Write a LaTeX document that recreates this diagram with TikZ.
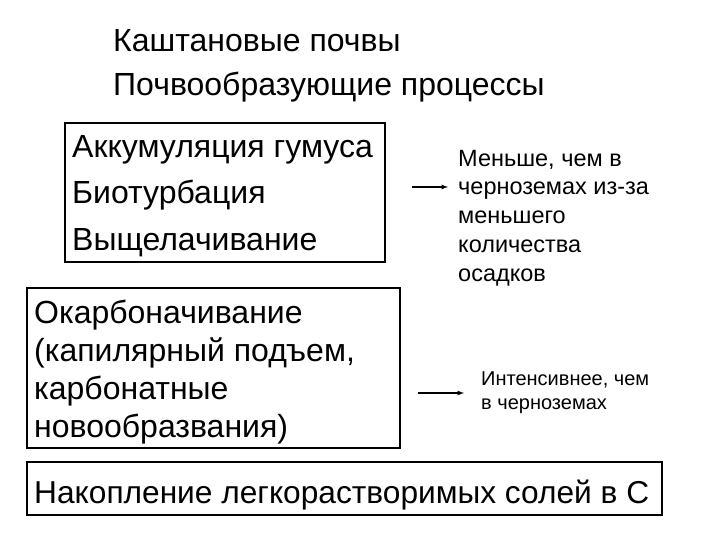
\documentclass[tikz,border=0pt]{standalone}
\usepackage{fontspec}
\setmainfont{Liberation Sans}
\begin{document}
\begin{tikzpicture}[x=1pt,y=-1pt,
  big/.style={font=\fontsize{32}{38}\selectfont,anchor=base west,inner sep=0},
  box/.style={draw,line width=1.2pt},
  mid/.style={font=\fontsize{23.5}{28}\selectfont,anchor=base west,inner sep=0},
  sm/.style={font=\fontsize{20}{24}\selectfont,anchor=base west,inner sep=0},
  arr/.style={-latex,line width=1.2pt}]
\useasboundingbox (0,0) rectangle (720,540);
\node[big] (t1) at (113,52) {Каштановые почвы};
\node[big] (t2) at (113,96) {Почвообразующие процессы};
\draw[box] (65,123) rectangle (385,262);
\node[big] (b1a) at (72,158) {Аккумуляция гумуса};
\node[big] (b1b) at (72,204) {Биотурбация};
\node[big] (b1c) at (72,250) {Выщелачивание};
\draw[box] (27,288) rectangle (400,448);
\node[big] (b2a) at (34,323) {Окарбоначивание};
\node[big] (b2b) at (34,361) {(капилярный подъем,};
\node[big] (b2c) at (34,399) {карбонатные};
\node[big] (b2d) at (34,437) {новообразвания)};
\draw[box] (27,462) rectangle (662,515);
\node[big] (b3) at (34,503) {\resizebox{615pt}{!}{Накопление легкорастворимых солей в С}};
\coordinate (a1s) at (412,187); \coordinate (a1e) at (448,187);
\draw[arr] (a1s) -- (a1e);
\node[mid] (n1a) at (458,167) {Меньше, чем в};
\node[mid] (n1b) at (458,195) {черноземах из-за};
\node[mid] (n1c) at (458,223) {меньшего};
\node[mid] (n1d) at (458,252) {количества};
\node[mid] (n1e) at (458,281) {осадков};
\coordinate (a2s) at (418,393); \coordinate (a2e) at (464,393);
\draw[arr] (a2s) -- (a2e);
\node[sm] (n2a) at (481,385) {Интенсивнее, чем};
\node[sm] (n2b) at (481,409) {в черноземах};
\end{tikzpicture}
\end{document}
